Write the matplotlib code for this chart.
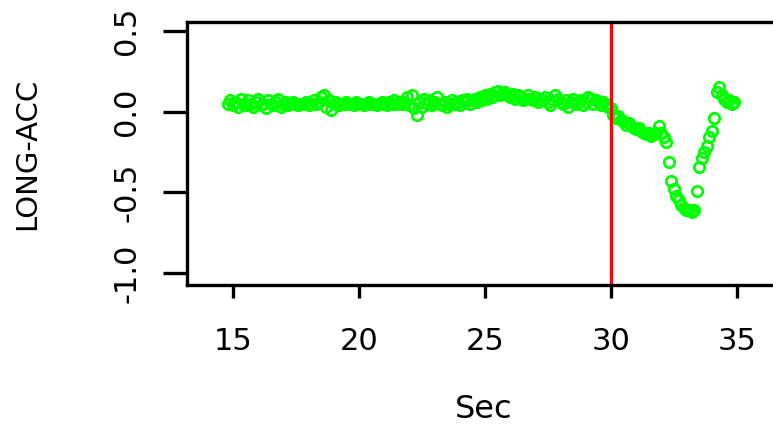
import numpy as np
import matplotlib
matplotlib.use("Agg")
import matplotlib.pyplot as plt

plt.rcParams["font.family"] = ["DejaVu Sans"]
plt.rcParams["axes.unicode_minus"] = False

t_start = 14.8
acc_steady = [
    0.05, 0.07, 0.04, 0.06, 0.03, 0.08, 0.05, 0.04, 0.07, 0.05,
    0.03, 0.06, 0.08, 0.04, 0.05, 0.02, 0.07, 0.05, 0.04, 0.06,
    0.08, 0.03, 0.05, 0.06, 0.04, 0.05, 0.06, 0.05, 0.04, 0.05,
    0.05, 0.06, 0.04, 0.05, 0.07, 0.05, 0.06, 0.09, 0.10, 0.03,
    0.07, 0.01, 0.05, 0.06, 0.04, 0.05, 0.05, 0.06, 0.05, 0.05,
    0.04, 0.06, 0.05, 0.05, 0.04, 0.05, 0.06, 0.05, 0.05, 0.04,
    0.05, 0.06, 0.05, 0.04, 0.06, 0.05, 0.07, 0.05, 0.06, 0.05,
    0.06, 0.09, 0.04, 0.10, 0.02, -0.02, 0.06, 0.03, 0.08, 0.05,
    0.07, 0.04, 0.06, 0.09, 0.05, 0.04, 0.06, 0.03, 0.05, 0.07,
    0.05, 0.06, 0.04, 0.07, 0.06, 0.08, 0.05, 0.07, 0.08, 0.06,
    0.09, 0.07, 0.10, 0.08, 0.11, 0.09, 0.12, 0.13, 0.10, 0.11,
    0.12, 0.10, 0.09, 0.11, 0.08, 0.10, 0.09, 0.07, 0.08, 0.10,
    0.08, 0.07, 0.09, 0.06, 0.08, 0.07, 0.09, 0.06, 0.04, 0.07,
    0.10, 0.08, 0.06, 0.05, 0.07, 0.03, 0.06, 0.08, 0.05, 0.06,
    0.07, 0.04, 0.06, 0.09, 0.08, 0.05, 0.07, 0.06, 0.04, 0.06,
    0.05, 0.03, 0.02, -0.02, -0.04, -0.03, -0.05, -0.06, -0.08, -0.07,
    -0.09, -0.10, -0.11, -0.10, -0.12, -0.13, -0.14, -0.13, -0.15, -0.14,
    -0.13, -0.09, -0.13, -0.16, -0.19, -0.31, -0.43, -0.48, -0.52, -0.55,
    -0.58, -0.60, -0.61, -0.61, -0.62, -0.61, -0.49, -0.34, -0.29, -0.25,
    -0.21, -0.16, -0.12, -0.04, 0.12, 0.15, 0.10, 0.08, 0.06, 0.07,
    0.05, 0.06,
]
sec = t_start + 0.1 * np.arange(len(acc_steady))
event_sec = 30

xticks = [15, 20, 25, 30, 35]
yticks = [-1.0, -0.5, 0.0, 0.5]
ytick_labels = ["-1.0", "-0.5", "0.0", "0.5"]

fig = plt.figure(figsize=(7.73, 4.25), dpi=100)
ax = fig.add_axes([0.2419, 0.3294, 0.7684, 0.6188])

ax.plot(sec, acc_steady, "o", mfc="none", mec="#00FF00", ms=7.5, mew=2.0,
        clip_on=False)
ax.axvline(event_sec, color="#FF0000", lw=2.3)

ax.set_xlim(13.175, 36.75)
ax.set_ylim(-1.074, 0.555)
ax.set_xticks(xticks)
ax.set_xticklabels([str(v) for v in xticks])
ax.set_yticks(yticks)
ax.set_yticklabels(ytick_labels, rotation=90, va="center")

for s in ax.spines.values():
    s.set_linewidth(2.4)
ax.tick_params(axis="x", length=9.5, width=2.4, pad=21, labelsize=22)
ax.tick_params(axis="y", length=17, width=2.4, pad=16, labelsize=22)

ax.set_xlabel("Sec", fontsize=23)
ax.xaxis.label.set_va("center")
ax.xaxis.set_label_coords(0.5, -0.475)
ax.set_ylabel("LONG-ACC", fontsize=21)
ax.yaxis.label.set_va("center")
ax.yaxis.set_label_coords(-0.269, 0.5)

fig.savefig("out.png", dpi=100)
